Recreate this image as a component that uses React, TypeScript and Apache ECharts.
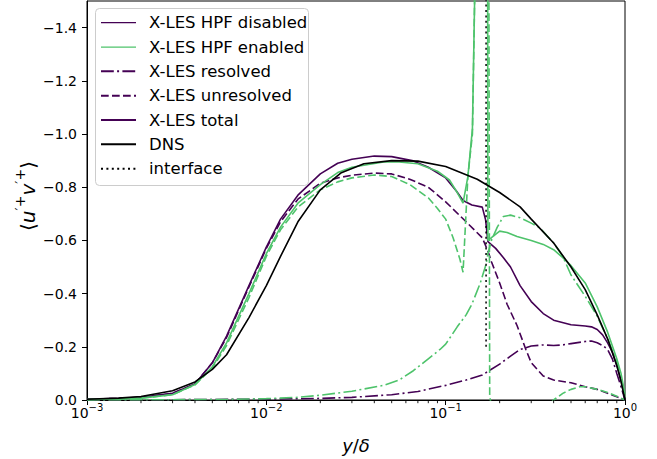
import React, { useEffect, useRef } from 'react';
import * as echarts from 'echarts';

// DNS reference profile
const dnsX = [0.001, 0.0015, 0.002, 0.003, 0.004, 0.005, 0.006, 0.008, 0.01, 0.012, 0.015, 0.02, 0.026, 0.035, 0.05, 0.07, 0.1, 0.15, 0.2, 0.26, 0.3, 0.4, 0.5, 0.6, 0.7, 0.8, 0.9, 0.95, 1.0];
const dnsY = [-0.003, -0.007, -0.013, -0.035, -0.068, -0.115, -0.17, -0.31, -0.43, -0.54, -0.67, -0.79, -0.853, -0.888, -0.9, -0.898, -0.878, -0.83, -0.78, -0.726, -0.68, -0.59, -0.5, -0.415, -0.32, -0.23, -0.13, -0.07, 0];

// X-LES, HPF disabled: total, unresolved, resolved
const totDisX = [0.001, 0.0015, 0.002, 0.003, 0.004, 0.005, 0.006, 0.008, 0.01, 0.012, 0.015, 0.02, 0.025, 0.03, 0.04, 0.05, 0.065, 0.08, 0.1, 0.115, 0.125, 0.14, 0.16, 0.167, 0.172, 0.19, 0.21, 0.23, 0.26, 0.3, 0.35, 0.4, 0.5, 0.6, 0.65, 0.7, 0.75, 0.8, 0.85, 0.9, 0.95, 1.0];
const totDisY = [-0.003, -0.006, -0.01, -0.025, -0.06, -0.14, -0.24, -0.43, -0.575, -0.68, -0.77, -0.85, -0.89, -0.905, -0.917, -0.915, -0.9, -0.875, -0.835, -0.785, -0.75, -0.733, -0.725, -0.677, -0.595, -0.57, -0.535, -0.5, -0.43, -0.37, -0.325, -0.3, -0.283, -0.278, -0.275, -0.265, -0.245, -0.215, -0.18, -0.13, -0.075, 0];

const unresDisX = [0.001, 0.0015, 0.002, 0.003, 0.004, 0.005, 0.006, 0.008, 0.01, 0.012, 0.015, 0.02, 0.025, 0.03, 0.04, 0.05, 0.063, 0.08, 0.1, 0.13, 0.16, 0.172, 0.18, 0.2, 0.22, 0.25, 0.28, 0.3, 0.35, 0.4, 0.5, 0.6, 0.7, 0.8, 0.9, 1.0];
const unresDisY = [-0.003, -0.006, -0.01, -0.025, -0.06, -0.14, -0.235, -0.425, -0.57, -0.67, -0.755, -0.815, -0.835, -0.845, -0.853, -0.85, -0.83, -0.8, -0.745, -0.67, -0.61, -0.56, -0.52, -0.44, -0.36, -0.28, -0.19, -0.14, -0.09, -0.075, -0.065, -0.05, -0.04, -0.025, -0.012, 0];

const resDisX = [0.001, 0.003, 0.01, 0.02, 0.03, 0.05, 0.07, 0.1, 0.13, 0.16, 0.2, 0.23, 0.26, 0.3, 0.35, 0.4, 0.45, 0.5, 0.6, 0.65, 0.7, 0.75, 0.8, 0.85, 0.9, 0.95, 1.0];
const resDisY = [0, -0.001, -0.003, -0.006, -0.01, -0.02, -0.032, -0.055, -0.075, -0.094, -0.135, -0.165, -0.19, -0.203, -0.207, -0.205, -0.207, -0.212, -0.22, -0.222, -0.215, -0.205, -0.19, -0.155, -0.1, -0.05, 0];

// X-LES, HPF enabled: total, unresolved, resolved
const totEnX = [0.001, 0.0015, 0.002, 0.003, 0.004, 0.005, 0.006, 0.008, 0.01, 0.012, 0.015, 0.02, 0.025, 0.03, 0.045, 0.055, 0.07, 0.09, 0.105, 0.116, 0.125, 0.133, 0.141, 0.145, 0.148, 0.169, 0.172, 0.18, 0.2, 0.22, 0.25, 0.3, 0.35, 0.4, 0.45, 0.5, 0.6, 0.7, 0.8, 0.9, 0.95, 1.0];
const totEnY = [-0.002, -0.004, -0.007, -0.02, -0.058, -0.125, -0.215, -0.4, -0.55, -0.65, -0.74, -0.81, -0.855, -0.875, -0.895, -0.895, -0.888, -0.86, -0.827, -0.78, -0.74, -0.84, -1.02, -1.5, -6, -6, -0.6, -0.61, -0.635, -0.63, -0.615, -0.6, -0.585, -0.565, -0.535, -0.505, -0.44, -0.35, -0.255, -0.155, -0.1, -0.02];

const unresEnX = [0.001, 0.0015, 0.002, 0.003, 0.004, 0.005, 0.006, 0.008, 0.01, 0.012, 0.015, 0.02, 0.025, 0.03, 0.04, 0.05, 0.063, 0.08, 0.09, 0.1, 0.11, 0.12, 0.125, 0.133, 0.141, 0.145, 0.148, 0.169, 0.176, 0.18, 0.2, 0.26, 0.3, 0.34, 0.4, 0.45, 0.5, 0.56, 0.6, 0.7, 0.8, 0.9, 1.0];
const unresEnY = [-0.002, -0.004, -0.007, -0.02, -0.057, -0.12, -0.205, -0.385, -0.54, -0.64, -0.725, -0.79, -0.82, -0.835, -0.846, -0.84, -0.81, -0.76, -0.72, -0.68, -0.61, -0.53, -0.48, -0.84, -1.0, -1.5, -6, -6, -0.02, 0.03, 0.055, 0.07, 0.065, 0.05, 0, -0.025, -0.04, -0.05, -0.05, -0.04, -0.028, -0.014, 0];

const resEnX = [0.001, 0.003, 0.006, 0.01, 0.015, 0.02, 0.03, 0.045, 0.055, 0.066, 0.08, 0.093, 0.1, 0.116, 0.13, 0.14, 0.156, 0.168, 0.172, 0.18, 0.194, 0.21, 0.23, 0.26, 0.3, 0.335, 0.4, 0.45, 0.5, 0.6, 0.7, 0.8, 0.9, 1.0];
const resEnY = [0, -0.001, -0.002, -0.005, -0.01, -0.018, -0.033, -0.055, -0.075, -0.11, -0.155, -0.19, -0.21, -0.275, -0.32, -0.36, -0.44, -0.51, -0.55, -0.6, -0.65, -0.69, -0.695, -0.685, -0.665, -0.647, -0.59, -0.54, -0.47, -0.39, -0.315, -0.23, -0.145, -0.01];

// RANS/LES interface location
const interfaceX = [0.168, 0.168];
const interfaceY = [-0.2, -1.6];

// Axis ticks
const yTicks = [-1.4, -1.2, -1.0, -0.8, -0.6, -0.4, -0.2, 0];
const xMinorTicks = [2, 3, 4, 5, 6, 7, 8, 9].flatMap((k) => [k * 0.001, k * 0.01, k * 0.1]);

const legendLabels = ['X-LES HPF disabled', 'X-LES HPF enabled', 'X-LES resolved', 'X-LES unresolved', 'X-LES total', 'DNS', 'interface'];

const FONT = 'DejaVu Sans';
const PURPLE = '#440154';
const GREEN = '#4ec36b';
const DASH = [7.7, 3.3];
const DASHDOT = [12.8, 3.3, 2, 3.3];
const DOT = [2, 3.4];
const LW = 1.6;

const zip = (xs: number[], ys: number[]) => xs.map((x, i) => [x, ys[i]]);

const line = (name: string, xs: number[], ys: number[], color: string, type: any, width = LW) => ({
  type: 'line',
  name,
  data: zip(xs, ys),
  showSymbol: false,
  symbol: 'none',
  clip: true,
  lineStyle: { color, width, type },
  emphasis: { disabled: true },
});

const legendStyles = [
  { color: PURPLE, width: 1.2, dash: null },
  { color: GREEN, width: 1.2, dash: null },
  { color: PURPLE, width: 2, dash: DASHDOT },
  { color: PURPLE, width: 2, dash: DASH },
  { color: PURPLE, width: 2, dash: null },
  { color: '#000000', width: 2, dash: null },
  { color: '#000000', width: 2, dash: DOT },
];

export default function App() {
  const ref = useRef<HTMLDivElement>(null);

  useEffect(() => {
    const chart = echarts.init(ref.current!, null, { renderer: 'svg' });

    const rowY = (i: number) => 22.7 + i * 24.33;
    const legendGraphics: any[] = [
      {
        type: 'rect',
        shape: { x: 95.5, y: 8.5, width: 213, height: 177, r: 4 },
        style: { fill: 'rgba(255,255,255,0.8)', stroke: '#cccccc', lineWidth: 1 },
        z: 100,
      },
    ];
    legendLabels.forEach((label, i) => {
      const s = legendStyles[i];
      legendGraphics.push({
        type: 'line',
        shape: { x1: 101, y1: rowY(i), x2: 136, y2: rowY(i) },
        style: { stroke: s.color, lineWidth: s.width, lineDash: s.dash || undefined },
        z: 101,
      });
      legendGraphics.push({
        type: 'text',
        x: 149,
        y: rowY(i),
        style: {
          text: label,
          fontFamily: FONT,
          fontSize: 16.5,
          fill: '#000000',
          textVerticalAlign: 'middle',
          verticalAlign: 'middle',
        },
        z: 101,
      });
    });

    // rotated y-axis title with primes and superscript plus signs
    const yTitle = {
      type: 'text',
      x: 25,
      y: 196,
      rotation: Math.PI / 2,
      style: {
        text: '{n|⟨}{i|u}{s|′+}{i|v}{s|′+}{n|⟩}',
        align: 'center',
        verticalAlign: 'middle',
        textAlign: 'center',
        textVerticalAlign: 'middle',
        fontFamily: FONT,
        fontSize: 20,
        fill: '#000',
        rich: {
          n: { fontFamily: FONT, fontSize: 20, fill: '#000', lineHeight: 25, verticalAlign: 'bottom' },
          i: { fontFamily: FONT, fontSize: 20, fontStyle: 'italic', fill: '#000', lineHeight: 25, verticalAlign: 'bottom' },
          s: { fontFamily: FONT, fontSize: 14, fill: '#000', verticalAlign: 'top' },
        },
      },
      z: 50,
    };

    const option: any = {
      animation: false,
      backgroundColor: '#ffffff',
      textStyle: { fontFamily: FONT },
      grid: {
        left: 87,
        right: 32,
        top: 1,
        bottom: 59,
        outerBoundsMode: 'none',
        containLabel: false,
        show: true,
        borderColor: '#000000',
        borderWidth: 1,
        backgroundColor: 'transparent',
      },
      xAxis: {
        type: 'log',
        logBase: 10,
        min: 0.001,
        max: 1,
        name: '{i|y}{n|/}{i|δ}',
        nameLocation: 'middle',
        nameGap: 36,
        nameMoveOverlap: false,
        nameTextStyle: {
          fontFamily: FONT,
          fontSize: 18,
          color: '#000',
          rich: {
            i: { fontFamily: FONT, fontSize: 18, fontStyle: 'italic', color: '#000' },
            n: { fontFamily: FONT, fontSize: 18, color: '#000' },
          },
        },
        axisLine: { show: true, lineStyle: { color: '#000', width: 1 } },
        axisTick: { show: true, inside: false, length: 5, lineStyle: { color: '#000', width: 1 } },
        splitLine: { show: false },
        axisLabel: {
          show: true,
          margin: 2.5,
          showMinLabel: true,
          showMaxLabel: true,
          formatter: (v: number) => {
            const e = Math.round(Math.log10(v));
            return `{b|10}{s|${e < 0 ? '\u2212' + -e : e}}`;
          },
          rich: {
            b: { fontFamily: FONT, fontSize: 14, color: '#000', lineHeight: 17.5, verticalAlign: 'bottom' },
            s: { fontFamily: FONT, fontSize: 10, color: '#000', verticalAlign: 'top' },
          },
        },
      },
      yAxis: {
        type: 'value',
        inverse: true,
        min: -1.5,
        max: 0,
        axisLine: { show: true, lineStyle: { color: '#000', width: 1 } },
        axisTick: { show: true, inside: false, length: 5, customValues: yTicks, lineStyle: { color: '#000', width: 1 } },
        splitLine: { show: false },
        axisLabel: {
          show: true,
          margin: 10,
          customValues: yTicks,
          fontFamily: FONT,
          fontSize: 14,
          color: '#000',
          formatter: (v: number) => (Math.abs(v) < 1e-9 ? '0.0' : '\u2212' + Math.abs(v).toFixed(1)),
        },
      },
      series: [
        {
          type: 'custom',
          name: 'minor ticks',
          silent: true,
          clip: false,
          data: xMinorTicks.map((v) => [v, 0]),
          encode: { x: 0, y: 1 },
          renderItem: (params: any, api: any) => {
            const p = api.coord([api.value(0), 0]);
            return {
              type: 'line',
              shape: { x1: p[0], y1: p[1], x2: p[0], y2: p[1] + 3.2 },
              style: { stroke: '#000', lineWidth: 0.9 },
            };
          },
          z: 5,
        },
        line('X-LES resolved (HPF disabled)', resDisX, resDisY, PURPLE, DASHDOT),
        line('X-LES unresolved (HPF disabled)', unresDisX, unresDisY, PURPLE, DASH),
        line('X-LES total (HPF disabled)', totDisX, totDisY, PURPLE, 'solid'),
        line('X-LES resolved (HPF enabled)', resEnX, resEnY, GREEN, DASHDOT),
        line('X-LES unresolved (HPF enabled)', unresEnX, unresEnY, GREEN, DASH),
        line('X-LES total (HPF enabled)', totEnX, totEnY, GREEN, 'solid'),
        line('DNS', dnsX, dnsY, '#000000', 'solid'),
        line('interface', interfaceX, interfaceY, '#000000', DOT, 1.5),
      ],
      graphic: [yTitle, ...legendGraphics],
    };

    chart.setOption(option);
    return () => chart.dispose();
  }, []);

  return <div ref={ref} style={{ position: 'absolute', left: 0, top: 0, width: 657, height: 459 }} />;
}
